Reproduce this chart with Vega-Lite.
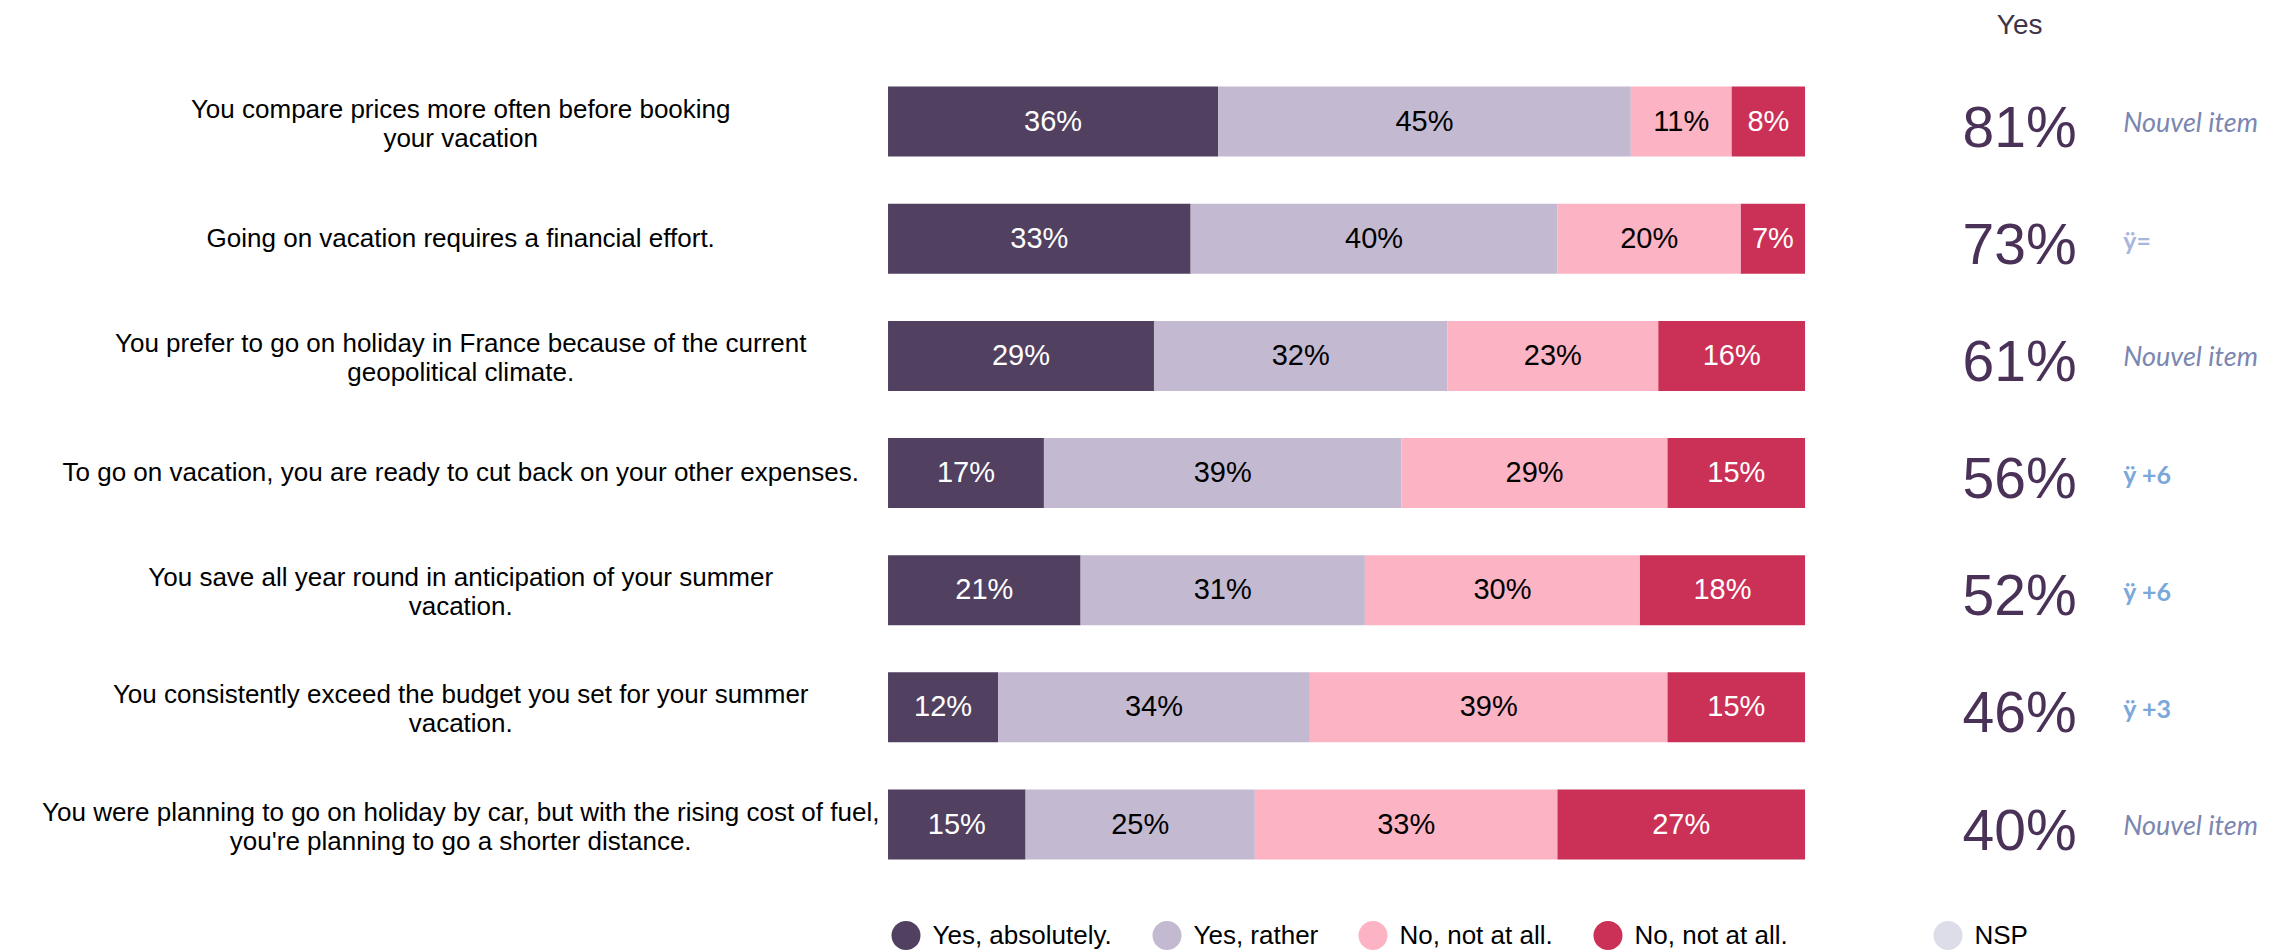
{
  "$schema": "https://vega.github.io/schema/vega-lite/v6.json",
  "width": 2295,
  "height": 952,
  "autosize": {"type": "fit", "contains": "padding"},
  "padding": 0,
  "background": "white",
  "config": {"view": {"stroke": null}, "font": "Liberation Sans"},
  "datasets": {
    "bars": [
      {"row": 1, "cat": "Yes, absolutely.", "ord": 1, "value": 36},
      {"row": 1, "cat": "Yes, rather", "ord": 2, "value": 45},
      {"row": 1, "cat": "No, not really", "ord": 3, "value": 11},
      {"row": 1, "cat": "No, not at all.", "ord": 4, "value": 8},
      {"row": 2, "cat": "Yes, absolutely.", "ord": 1, "value": 33},
      {"row": 2, "cat": "Yes, rather", "ord": 2, "value": 40},
      {"row": 2, "cat": "No, not really", "ord": 3, "value": 20},
      {"row": 2, "cat": "No, not at all.", "ord": 4, "value": 7},
      {"row": 3, "cat": "Yes, absolutely.", "ord": 1, "value": 29},
      {"row": 3, "cat": "Yes, rather", "ord": 2, "value": 32},
      {"row": 3, "cat": "No, not really", "ord": 3, "value": 23},
      {"row": 3, "cat": "No, not at all.", "ord": 4, "value": 16},
      {"row": 4, "cat": "Yes, absolutely.", "ord": 1, "value": 17},
      {"row": 4, "cat": "Yes, rather", "ord": 2, "value": 39},
      {"row": 4, "cat": "No, not really", "ord": 3, "value": 29},
      {"row": 4, "cat": "No, not at all.", "ord": 4, "value": 15},
      {"row": 5, "cat": "Yes, absolutely.", "ord": 1, "value": 21},
      {"row": 5, "cat": "Yes, rather", "ord": 2, "value": 31},
      {"row": 5, "cat": "No, not really", "ord": 3, "value": 30},
      {"row": 5, "cat": "No, not at all.", "ord": 4, "value": 18},
      {"row": 6, "cat": "Yes, absolutely.", "ord": 1, "value": 12},
      {"row": 6, "cat": "Yes, rather", "ord": 2, "value": 34},
      {"row": 6, "cat": "No, not really", "ord": 3, "value": 39},
      {"row": 6, "cat": "No, not at all.", "ord": 4, "value": 15},
      {"row": 7, "cat": "Yes, absolutely.", "ord": 1, "value": 15},
      {"row": 7, "cat": "Yes, rather", "ord": 2, "value": 25},
      {"row": 7, "cat": "No, not really", "ord": 3, "value": 33},
      {"row": 7, "cat": "No, not at all.", "ord": 4, "value": 27}
    ],
    "items": [
      {"row": 1, "label": ["You compare prices more often before booking", "your vacation"], "yes": "81%", "delta": "Nouvel item"},
      {"row": 2, "label": ["Going on vacation requires a financial effort."], "yes": "73%", "delta": "ÿ="},
      {"row": 3, "label": ["You prefer to go on holiday in France because of the current", "geopolitical climate."], "yes": "61%", "delta": "Nouvel item"},
      {"row": 4, "label": ["To go on vacation, you are ready to cut back on your other expenses."], "yes": "56%", "delta": "ÿ +6"},
      {"row": 5, "label": ["You save all year round in anticipation of your summer", "vacation."], "yes": "52%", "delta": "ÿ +6"},
      {"row": 6, "label": ["You consistently exceed the budget you set for your summer", "vacation."], "yes": "46%", "delta": "ÿ +3"},
      {"row": 7, "label": ["You were planning to go on holiday by car, but with the rising cost of fuel,", "you're planning to go a shorter distance."], "yes": "40%", "delta": "Nouvel item"}
    ]
  },
  "layer": [
    {
      "data": {"name": "bars"},
      "transform": [
        {"stack": "value", "groupby": ["row"], "sort": [{"field": "ord", "order": "ascending"}], "as": ["v0", "v1"]}
      ],
      "mark": {"type": "bar", "orient": "horizontal", "height": 70},
      "encoding": {
        "x": {"field": "v0", "type": "quantitative", "stack": null, "scale": {"domain": [-96.84, 153.43], "nice": false, "zero": false}, "axis": null},
        "x2": {"field": "v1"},
        "y": {"field": "row", "type": "quantitative", "scale": {"domain": [0.005, 8.0455], "nice": false, "zero": false, "reverse": true}, "axis": null},
        "color": {
          "field": "cat",
          "type": "nominal",
          "scale": {"domain": ["Yes, absolutely.", "Yes, rather", "No, not really", "No, not at all."], "range": ["#514060", "#c3b9d0", "#fcb3c4", "#cb3056"]},
          "legend": {
            "orient": "none", "legendX": 891.5, "legendY": 921, "direction": "horizontal", "title": null,
            "symbolType": "circle", "symbolSize": 841, "symbolStrokeWidth": 0, "padding": 0,
            "labelFontSize": 26, "labelFont": "Liberation Sans", "labelColor": "#000000", "labelOffset": 12,
            "columnPadding": 40, "labelLimit": 600,
            "labelExpr": "datum.label == 'No, not really' ? 'No, not at all.' : datum.label"
          }
        }
      }
    },
    {
      "data": {"name": "bars"},
      "transform": [
        {"stack": "value", "groupby": ["row"], "sort": [{"field": "ord", "order": "ascending"}], "as": ["v0", "v1"]},
        {"calculate": "(datum.v0 + datum.v1) / 2", "as": "mid"},
        {"calculate": "datum.value + '%'", "as": "lbl"}
      ],
      "mark": {"type": "text", "fontSize": 29, "font": "Liberation Sans", "align": "center", "baseline": "middle"},
      "encoding": {
        "x": {"field": "mid", "type": "quantitative", "scale": {"domain": [-96.84, 153.43], "nice": false, "zero": false}, "axis": null},
        "y": {"field": "row", "type": "quantitative", "scale": {"domain": [0.005, 8.0455], "nice": false, "zero": false, "reverse": true}, "axis": null},
        "text": {"field": "lbl"},
        "color": {"condition": {"test": "datum.ord == 1 || datum.ord == 4", "value": "#ffffff"}, "value": "#000000"}
      }
    },
    {
      "data": {"name": "items"},
      "transform": [{"filter": "length(datum.label) == 1"}],
      "mark": {"type": "text", "fontSize": 26, "font": "Liberation Sans", "align": "center", "baseline": "middle", "lineHeight": 29, "color": "#000000"},
      "encoding": {
        "x": {"datum": -46.6, "type": "quantitative", "scale": {"domain": [-96.84, 153.43], "nice": false, "zero": false}, "axis": null},
        "y": {"field": "row", "type": "quantitative", "scale": {"domain": [0.005, 8.0455], "nice": false, "zero": false, "reverse": true}, "axis": null},
        "text": {"field": "label"}
      }
    },
    {
      "data": {"name": "items"},
      "transform": [{"filter": "length(datum.label) > 1"}],
      "mark": {"type": "text", "fontSize": 26, "font": "Liberation Sans", "align": "center", "baseline": "middle", "lineHeight": 29, "dy": -12, "color": "#000000"},
      "encoding": {
        "x": {"datum": -46.6, "type": "quantitative", "scale": {"domain": [-96.84, 153.43], "nice": false, "zero": false}, "axis": null},
        "y": {"field": "row", "type": "quantitative", "scale": {"domain": [0.005, 8.0455], "nice": false, "zero": false, "reverse": true}, "axis": null},
        "text": {"field": "label"}
      }
    },
    {
      "data": {"name": "items"},
      "mark": {"type": "text", "fontSize": 57, "font": "Liberation Sans", "align": "center", "baseline": "middle", "dy": 8, "color": "#4a3158"},
      "encoding": {
        "x": {"datum": 123.4, "type": "quantitative", "scale": {"domain": [-96.84, 153.43], "nice": false, "zero": false}, "axis": null},
        "y": {"field": "row", "type": "quantitative", "scale": {"domain": [0.005, 8.0455], "nice": false, "zero": false, "reverse": true}, "axis": null},
        "text": {"field": "yes"}
      }
    },
    {
      "data": {"name": "items"},
      "transform": [{"filter": "datum.delta == 'Nouvel item'"}],
      "mark": {"type": "text", "fontSize": 27, "font": "Lato", "fontStyle": "italic", "align": "left", "baseline": "middle", "dy": 2, "color": "#7b86b1"},
      "encoding": {
        "x": {"datum": 134.7, "type": "quantitative", "scale": {"domain": [-96.84, 153.43], "nice": false, "zero": false}, "axis": null},
        "y": {"field": "row", "type": "quantitative", "scale": {"domain": [0.005, 8.0455], "nice": false, "zero": false, "reverse": true}, "axis": null},
        "text": {"field": "delta"}
      }
    },
    {
      "data": {"name": "items"},
      "transform": [{"filter": "datum.delta != 'Nouvel item'"}],
      "mark": {"type": "text", "fontSize": 25, "font": "Lato", "fontWeight": "bold", "align": "left", "baseline": "middle", "dy": 3},
      "encoding": {
        "x": {"datum": 134.7, "type": "quantitative", "scale": {"domain": [-96.84, 153.43], "nice": false, "zero": false}, "axis": null},
        "y": {"field": "row", "type": "quantitative", "scale": {"domain": [0.005, 8.0455], "nice": false, "zero": false, "reverse": true}, "axis": null},
        "text": {"field": "delta"},
        "color": {"condition": {"test": "datum.delta == 'ÿ='", "value": "#a9b6dc"}, "value": "#7aa8db"}
      }
    },
    {
      "data": {"values": [{"h": "Yes"}]},
      "mark": {"type": "text", "fontSize": 28, "font": "Liberation Sans", "align": "center", "baseline": "middle", "color": "#3f3447"},
      "encoding": {
        "x": {"datum": 123.4, "type": "quantitative", "scale": {"domain": [-96.84, 153.43], "nice": false, "zero": false}, "axis": null},
        "y": {"datum": 0.18, "type": "quantitative", "scale": {"domain": [0.005, 8.0455], "nice": false, "zero": false, "reverse": true}, "axis": null},
        "text": {"field": "h"}
      }
    },
    {
      "data": {"values": [{"k": "NSP"}]},
      "mark": {"type": "point", "filled": true, "opacity": 0},
      "encoding": {
        "fill": {
          "field": "k",
          "type": "nominal",
          "scale": {"domain": ["NSP"], "range": ["#dcdde9"]},
          "legend": {
            "orient": "none", "legendX": 1933.5, "legendY": 921, "direction": "horizontal", "title": null,
            "symbolType": "circle", "symbolSize": 841, "symbolStrokeWidth": 0, "symbolOpacity": 1, "padding": 0,
            "labelFontSize": 26, "labelFont": "Liberation Sans", "labelColor": "#000000", "labelOffset": 12, "labelLimit": 600
          }
        }
      }
    }
  ]
}
